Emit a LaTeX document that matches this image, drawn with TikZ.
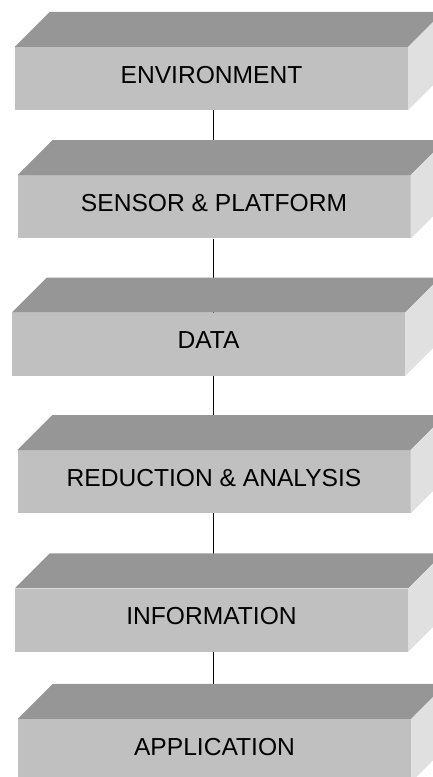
\documentclass[tikz,border=0pt]{standalone}
\usepackage{fontspec}
\setmainfont{Liberation Sans}
\usepackage{tikz}
\usetikzlibrary{positioning, calc}
\definecolor{frontgray}{RGB}{192, 192, 192}
\definecolor{topgray}{RGB}{150, 150, 150}
\definecolor{sidegray}{RGB}{224, 224, 224}

\begin{document}
\begin{tikzpicture}[
    x=1pt, y=-1pt,
    slab/.style={rectangle, fill=frontgray, inner sep=0pt,
                 minimum width=393pt, minimum height=63pt,
                 text depth=8pt, font=\fontsize{24.6}{28}\selectfont},
    link/.style={line width=1pt, black},
]
\useasboundingbox (0,0) rectangle (432,777);

% Layers
\node[slab] at (211.5,78.5) (env) {ENVIRONMENT};
\node[slab, below=65pt of env, xshift=2.5pt] (sensor) {SENSOR \& PLATFORM};
\node[slab, below=74pt of sensor, xshift=-5.5pt] (data) {DATA};
\node[slab, below=74pt of data, xshift=5.5pt] (reduce) {REDUCTION \& ANALYSIS};
\node[slab, below=75pt of reduce, xshift=-2.5pt] (info) {INFORMATION};
\node[slab, below=67pt of info, xshift=3pt] (app) {APPLICATION};

% Links
\draw[link] ($(env.south)+(1.5,0)$) -- ($(env.south |- sensor.north)+(1.5,0)$);
\draw[link] ($(sensor.south)+(-1,0)$) -- ($(sensor.south |- data.north)+(-1,0)$);
\draw[link] ($(data.south)+(4.5,0)$) -- ($(data.south |- reduce.north)+(4.5,0)$);
\draw[link] ($(reduce.south)+(-1,0)$) -- ($(reduce.south |- info.north)+(-1,0)$);
\draw[link] ($(info.south)+(1.5,0)$) -- ($(info.south |- app.north)+(1.5,0)$);

% Top and side faces
\foreach \n in {env, sensor, data, reduce, info, app} {
    \fill[topgray] (\n.north west) -- ++(35,-35) -- ($(\n.north east)+(35,-35)$)
        -- (\n.north east) -- cycle;
    \fill[sidegray] (\n.north east) -- ++(35,-35) -- ($(\n.south east)+(35,-35)$)
        -- (\n.south east) -- cycle;
}

\end{tikzpicture}
\end{document}
